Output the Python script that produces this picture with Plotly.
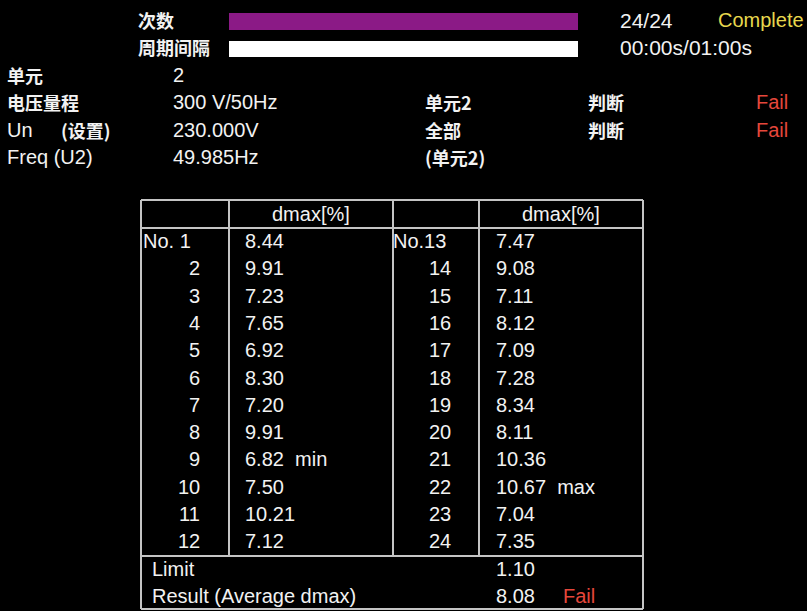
import plotly.graph_objects as go

count_done, count_total = 24, 24
interval_text = "00:00s/01:00s"
status = "Complete"

info_labels = ["单元", "电压量程", "Un", "Freq (U2)"]
info_values = ["2", "300 V/50Hz", "230.000V", "49.985Hz"]

judge_labels = ["单元2", "全部", "(单元2)"]
judge_results = ["Fail", "Fail", ""]

nos_left = list(range(1, 13))
dmax_left = [8.44, 9.91, 7.23, 7.65, 6.92, 8.30, 7.20, 9.91, 6.82, 7.50, 10.21, 7.12]
nos_right = list(range(13, 25))
dmax_right = [7.47, 9.08, 7.11, 8.12, 7.09, 7.28, 8.34, 8.11, 10.36, 10.67, 7.04, 7.35]

limit_value = 1.10
result_value = 8.08
result_judge = "Fail"

# --- look ---
W, H = 807, 611
WHITE = "#f2f2f2"
RED = "#e5473b"
YELLOW = "#e8d84e"
PURPLE = "#8b1a86"
LINE = "#c4c4c4"
FONT = "Liberation Sans, Arial, Noto Sans CJK SC, sans-serif"
CJK = "Noto Sans CJK SC, sans-serif"
FS = 20
FS_CJK = 18

ROW0, ROW_H = 241, 27.3

fig = go.Figure()

# progress bars
bar_x0, bar_len = 229, 349
fig.add_trace(go.Bar(
    y=[21.5], x=[bar_len * count_done / count_total], base=[bar_x0],
    orientation="h", width=17, marker=dict(color=PURPLE, line_width=0),
    hoverinfo="skip", showlegend=False,
))
fig.add_trace(go.Bar(
    y=[49], x=[bar_len], base=[bar_x0],
    orientation="h", width=16, marker=dict(color="#ffffff", line_width=0),
    hoverinfo="skip", showlegend=False,
))

ann = []


def txt(x, y, s, anchor="left", color=WHITE, size=FS, cjk=False):
    f = dict(family=CJK, size=FS_CJK, color=color, weight="bold") if cjk else \
        dict(family=FONT, size=size, color=color)
    ann.append(dict(x=x, y=y, text=s, xref="x", yref="y", showarrow=False,
                    xanchor=anchor, yanchor="middle", borderpad=0, font=f))


# header
txt(137, 20, "次数", cjk=True)
txt(137, 47, "周期间隔", cjk=True)
txt(619, 20, f"{count_done}/{count_total}", size=21)
txt(805, 20, status, anchor="right", color=YELLOW, size=20)
txt(619, 47, interval_text, size=21)

# info block
for i, (lab, val) in enumerate(zip(info_labels, info_values)):
    y = 75 + i * ROW_H
    txt(6, y, lab, cjk=not lab.isascii())
    txt(172, y, val)
txt(60, 75 + 2 * ROW_H, "(设置)", cjk=True)

for i, (lab, res) in enumerate(zip(judge_labels, judge_results)):
    y = 75 + (i + 1) * ROW_H
    txt(424, y, lab, cjk=True)
    if res:
        txt(587, y, "判断", cjk=True)
        txt(789, y, res, anchor="right", color=RED)

# table text
txt(311, 214, "dmax[%]", anchor="center")
txt(561, 214, "dmax[%]", anchor="center")

vmin, vmax = min(dmax_left + dmax_right), max(dmax_left + dmax_right)
for col, (nos, vals) in enumerate([(nos_left, dmax_left), (nos_right, dmax_right)]):
    xn = 201 if col == 0 else 452
    xv = 244 if col == 0 else 495
    for i, (n, v) in enumerate(zip(nos, vals)):
        y = ROW0 + i * ROW_H
        if i == 0:
            txt(142 if col == 0 else 392, y, f"No. {n}" if col == 0 else f"No.{n}")
        else:
            txt(xn, y, str(n), anchor="right")
        s = f"{v:.2f}"
        if v == vmin:
            s += "  min"
        elif v == vmax:
            s += "  max"
        txt(xv, y, s)

txt(151, ROW0 + 12 * ROW_H, "Limit")
txt(495, ROW0 + 12 * ROW_H, f"{limit_value:.2f}")
txt(151, ROW0 + 13 * ROW_H, "Result (Average dmax)")
txt(495, ROW0 + 13 * ROW_H, f"{result_value:.2f}")
txt(562, ROW0 + 13 * ROW_H, result_judge, color=RED)

# table grid
shapes = []


def ln(x0, y0, x1, y1):
    shapes.append(dict(type="line", xref="x", yref="y", x0=x0, y0=y0, x1=x1, y1=y1,
                       line=dict(color=LINE, width=2)))


ln(141, 200, 643, 200)
ln(141, 609, 643, 609)
ln(141, 200, 141, 609)
ln(643, 200, 643, 609)
ln(141, 228, 643, 228)
ln(141, 556, 643, 556)
for xs in (229, 393, 479):
    ln(xs, 200, xs, 556)

fig.update_layout(
    width=W, height=H,
    margin=dict(l=0, r=0, t=0, b=0),
    paper_bgcolor="#000000", plot_bgcolor="#000000",
    xaxis=dict(range=[0, W], visible=False, fixedrange=True),
    yaxis=dict(range=[H, 0], visible=False, fixedrange=True),
    annotations=ann, shapes=shapes,
    bargap=0, showlegend=False,
)

fig.write_html(
    "out.html",
    config={"displayModeBar": False},
    post_script="document.body.style.margin='0';document.body.style.background='#000';",
)
